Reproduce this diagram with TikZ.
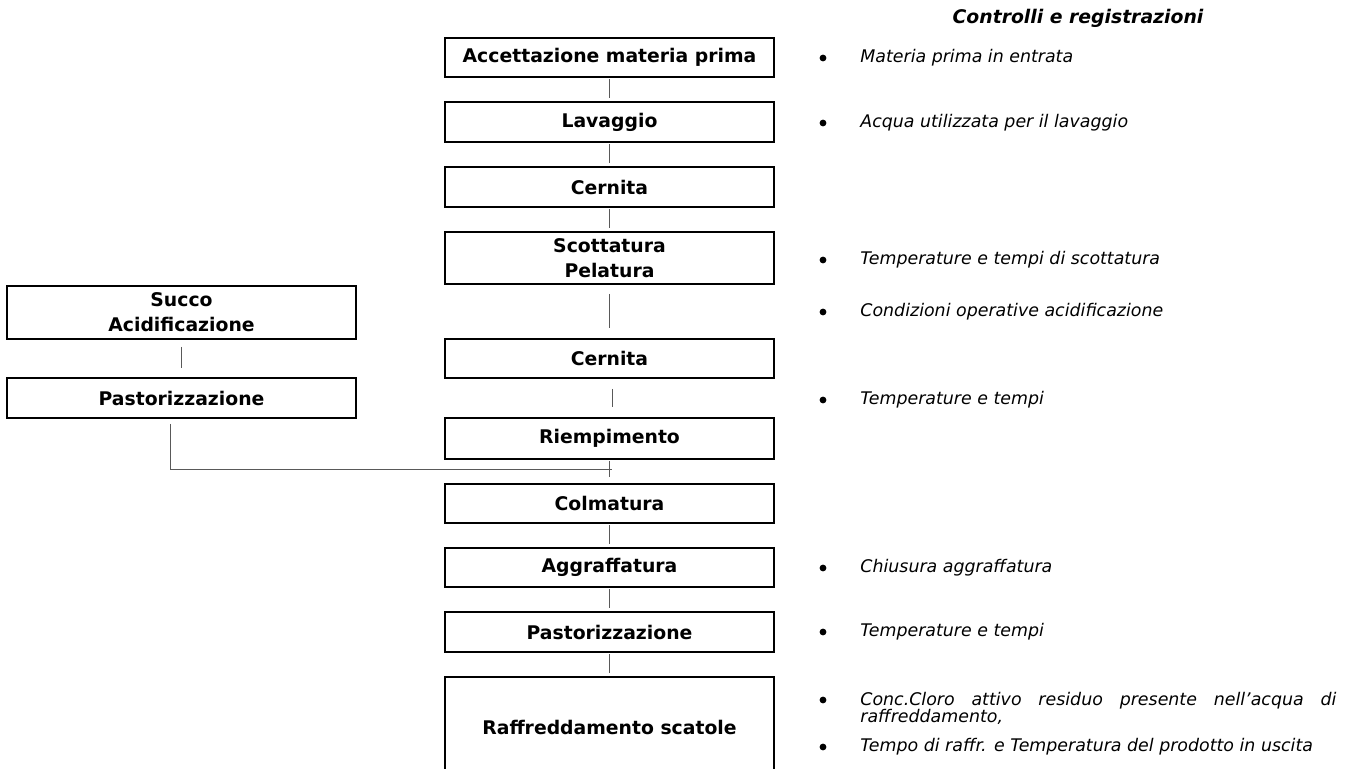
\documentclass[tikz,border=0pt]{standalone}
\usepackage{fontspec}
\setmainfont{DejaVu Sans}

\tikzset{
    fase/.style={draw, line width=1pt, minimum width=164.5pt, minimum height=20pt,
        inner sep=0pt, align=center, font=\fontsize{9.4}{12.5}\selectfont\bfseries},
    nota/.style={anchor=west, inner sep=0pt, text height=6.5pt, text depth=1.8pt,
        font=\fontsize{8.7}{8.5}\selectfont\itshape},
    notalunga/.style={anchor=north west, inner sep=0pt, text width=238pt, align=justify,
        font=\fontsize{8.7}{8.5}\selectfont\itshape},
    link/.style={draw=black!65, line width=0.5pt, shorten <=0.5pt, shorten >=1.5pt},
}

\begin{document}
\begin{tikzpicture}[x=0.5pt, y=-0.5pt]
    \useasboundingbox (0,0) rectangle (1348,769);
    \clip (0,0) rectangle (1348,769);

    % linea principale
    \node[fase, minimum height=19.5pt] (acc) at (609.5,57.5) {Accettazione materia prima};
    \node[fase] (lav) at (609.5,122) {Lavaggio};
    \node[fase] (cer1) at (609.5,187) {Cernita};
    \node[fase, minimum height=26pt] (sco) at (609.5,258) {Scottatura\\Pelatura};
    \node[fase, minimum height=19.5pt] (cer2) at (609.5,358.5) {Cernita};
    \node[fase, minimum height=20.5pt] (rie) at (609.5,438.5) {Riempimento};
    \node[fase, minimum height=19.5pt] (col) at (609.5,503.5) {Colmatura};
    \node[fase, minimum height=19.5pt] (agg) at (609.5,567.5) {Aggraffatura};
    \node[fase] (pas) at (609.5,632) {Pastorizzazione};
    \node[fase, minimum height=50pt] (raf) at (609.5,727) {Raffreddamento scatole};

    % ramo del succo
    \node[fase, minimum width=174.5pt, minimum height=26.5pt] (suc) at (181.5,312.5) {Succo\\Acidificazione};
    \node[fase, minimum width=174.5pt] (pasL) at (181.5,398) {Pastorizzazione};

    \draw[link] (acc) -- (lav);
    \draw[link] (lav) -- (cer1);
    \draw[link] (cer1) -- (sco);
    \draw[link, shorten <=4.5pt, shorten >=5pt] (sco) -- (cer2);
    \draw[link, shorten <=5pt, shorten >=5pt] ([xshift=1.25pt]cer2.south) -- ([xshift=1.25pt]rie.north);
    \draw[link, shorten >=3pt] (rie) -- (col);
    \draw[link] (col) -- (agg);
    \draw[link] (agg) -- (pas);
    \draw[link] (pas) -- (raf);
    \draw[link, shorten <=3.5pt, shorten >=4.5pt] (suc) -- (pasL);

    \coordinate (giunto) at (612,470);
    \draw[link, shorten <=2.5pt, shorten >=0pt] ([xshift=-5.75pt]pasL.south) |- (giunto);

    % controlli
    \node[font=\fontsize{9.4}{11}\selectfont\bfseries\itshape] (titolo) at (1078,18) {Controlli e registrazioni};

    \node[nota] (n1) at (860,58) {Materia prima in entrata};
    \node[nota] (n2) at (860,123) {Acqua utilizzata per il lavaggio};
    \node[nota] (n3) at (860,260) {Temperature e tempi di scottatura};
    \node[nota] (n4) at (860,312) {Condizioni operative acidificazione};
    \node[nota] (n5) at (860,400) {Temperature e tempi};
    \node[nota] (n6) at (860,568) {Chiusura aggraffatura};
    \node[nota] (n7) at (860,632) {Temperature e tempi};
    \node[notalunga] (n8) at (860,691.6) {Conc.Cloro attivo residuo presente nell’acqua di\linebreak raffreddamento,};
    \node[nota] (n9) at (860,747) {Tempo di raffr. e Temperatura del prodotto in uscita};

    \foreach \y in {58,123,260,312,400,568,632,700,747}
        \fill (823,\y) circle (1.7pt);
\end{tikzpicture}
\end{document}
